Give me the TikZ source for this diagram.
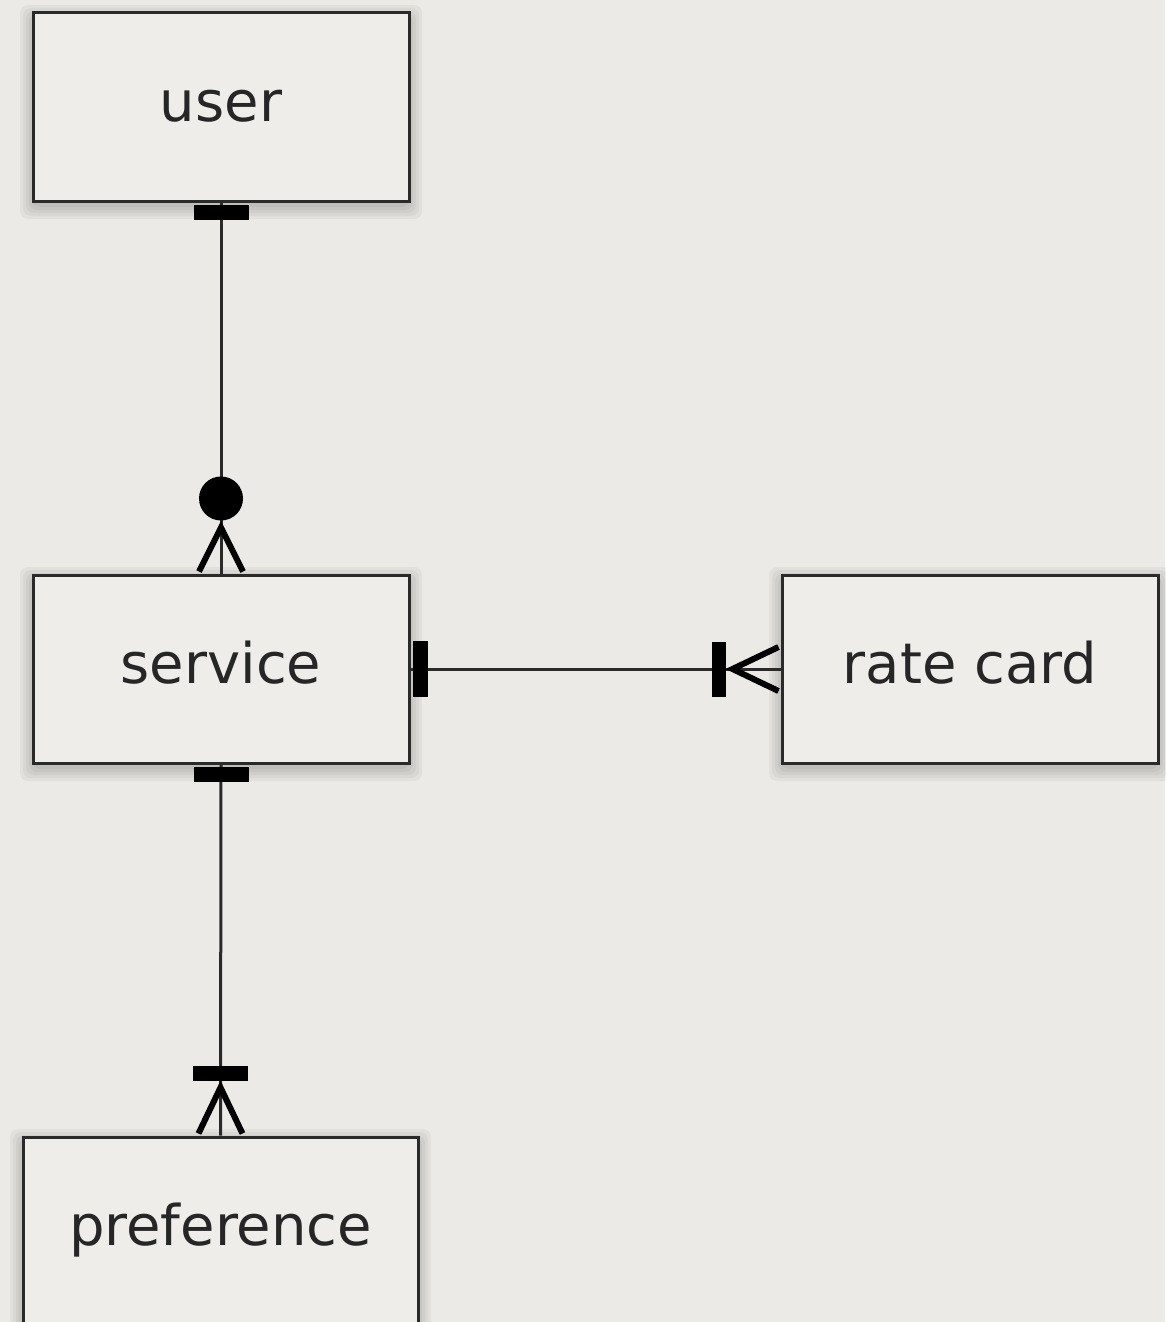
\documentclass[tikz,border=0pt]{standalone}
\usepackage{fontspec}
\setmainfont{DejaVu Sans}
\usetikzlibrary{calc}
\definecolor{paper}{HTML}{ECEAE6}
\definecolor{boxfill}{HTML}{EFEDEA}
\definecolor{ink}{HTML}{2A2A2A}
\definecolor{txt}{HTML}{262626}
\tikzset{
  entity/.style={draw=ink, line width=3pt, fill=boxfill, minimum width=376pt, minimum height=188pt,
    inner sep=0pt, text=txt, font=\fontsize{56}{60}\selectfont, text height=42pt, text depth=13pt},
  conn/.style={draw=ink, line width=3pt},
  crow/.style={draw=black, line width=6pt, line join=miter},
  softshadow/.style={fill=black, opacity=0.04, rounded corners=8pt}
}
\begin{document}
\begin{tikzpicture}[x=1pt,y=-1pt]
\useasboundingbox (0,0) rectangle (1165,1322);
\fill[paper] (0,0) rectangle (1165,1322);
% soft shadows
\foreach \cx/\cy/\w in {221/107/376, 221/669/376, 970/669/376, 220.5/1231/395}{
  \foreach \s in {1,4,7,10,13}{
    \fill[softshadow] (\cx-\w/2-\s,\cy-94-\s+5) rectangle (\cx+\w/2+\s,\cy+94+\s+5);
  }
}
\node[entity] (user) at (221,107) {user};
\node[entity] (service) at (221,669) {service};
\node[entity] (rate) at (970,669) {rate card};
\node[entity, minimum width=395pt] (pref) at (220.5,1231) {preference};

% user -- service
\draw[conn] (user.south) -- (service.north);
\fill[black] ($(user.south)+(-27.5,2)$) rectangle ($(user.south)+(27.5,17)$);
\fill[black] ($(service.north)+(0,-75)$) circle (22pt);
\draw[crow] ($(service.north)+(-22,-2)$) -- ($(service.north)+(0,-46)$) -- ($(service.north)+(22,-2)$);

% service -- rate card
\draw[conn] (service.east) -- (rate.west);
\fill[black] ($(service.east)+(2,-28)$) rectangle ($(service.east)+(17,28)$);
\fill[black] ($(rate.west)+(-69,-27)$) rectangle ($(rate.west)+(-55,28)$);
\draw[crow] ($(rate.west)+(-2,-22)$) -- ($(rate.west)+(-48,0)$) -- ($(rate.west)+(-2,22)$);

% service -- preference
\draw[conn] (service.south) -- (pref.north);
\fill[black] ($(service.south)+(-27.5,2)$) rectangle ($(service.south)+(27.5,17)$);
\fill[black] ($(pref.north)+(-27.5,-70)$) rectangle ($(pref.north)+(27.5,-55)$);
\draw[crow] ($(pref.north)+(-22,-2)$) -- ($(pref.north)+(0,-48)$) -- ($(pref.north)+(22,-2)$);
\end{tikzpicture}
\end{document}
